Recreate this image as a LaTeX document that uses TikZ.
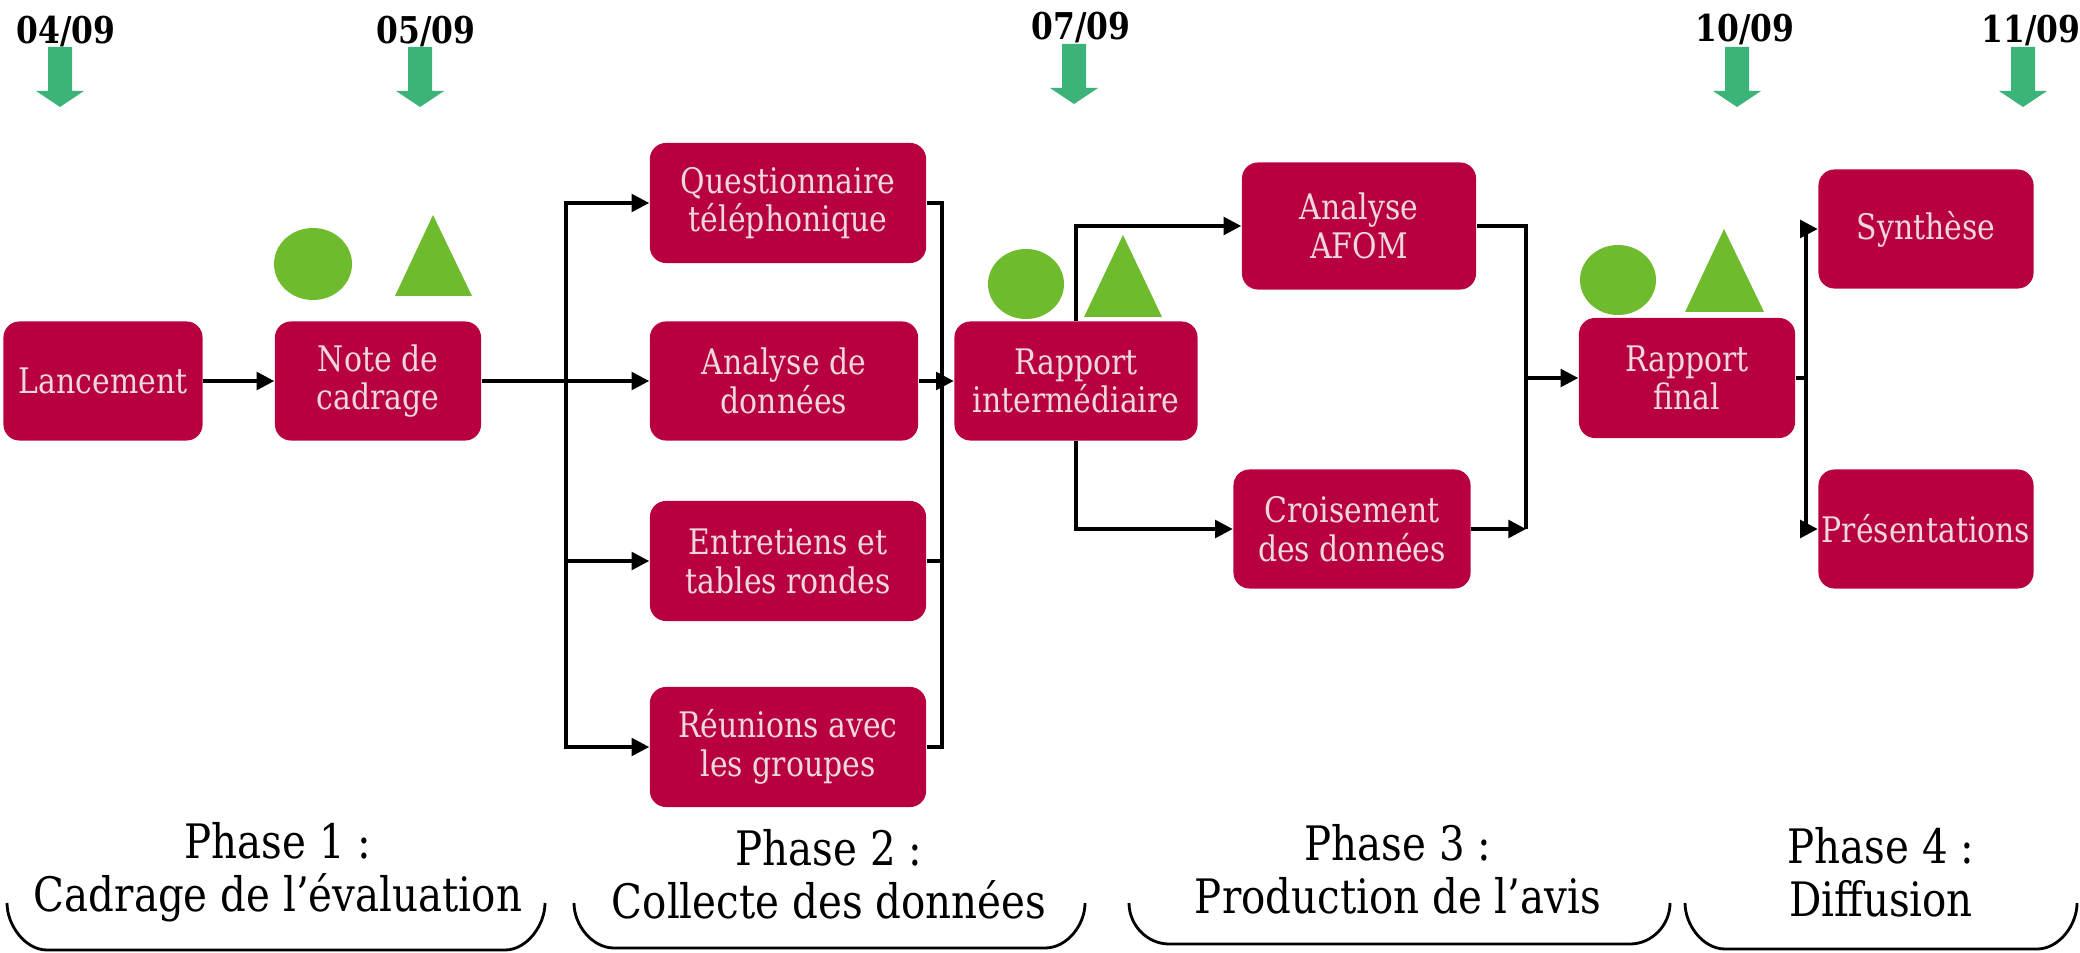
\documentclass[tikz,border=0pt]{standalone}
\usepackage{fontspec}
\setmainfont{DejaVu Serif}[FakeStretch=0.85]
\usetikzlibrary{arrows.meta}
\definecolor{boxred}{RGB}{184,0,64}
\definecolor{boxtxt}{RGB}{238,215,222}
\definecolor{arrgreen}{RGB}{60,179,120}
\definecolor{shpgreen}{RGB}{110,187,46}
\tikzset{
  box/.style={fill=boxred, rounded corners=0.16cm, text=boxtxt, align=center,
    font=\fontsize{10}{11}\selectfont, inner sep=1pt},
  phase/.style={align=center, font=\fontsize{13.5}{15}\selectfont},
  datelbl/.style={font=\bfseries\fontsize{10.5}{12}\selectfont, inner sep=0pt},
  conn/.style={line width=1pt, black},
  arr/.style={conn, -{Triangle[length=5pt,width=5pt]}},
  brace/.style={line width=0.8pt, black},
}
\begin{document}
\begin{tikzpicture}[x=0.01cm,y=-0.01cm]
\useasboundingbox (0,0) rectangle (2080,952);
% dates and green arrows
\node[datelbl] (d1) at (66,32) {04/09};
\node[datelbl] (d2) at (426,32) {05/09};
\node[datelbl] (d3) at (1081,28) {07/09};
\node[datelbl] (d4) at (1745,30) {10/09};
\node[datelbl] (d5) at (2031,31) {11/09};
\foreach \c/\t in {60/47,420/47,1074/44,1737/47,2023/47}{
  \fill[arrgreen] (\c-12,\t) -- (\c+12,\t) -- (\c+12,\t+44) -- (\c+24,\t+44)
    -- (\c,\t+60) -- (\c-24,\t+44) -- (\c-12,\t+44) -- cycle;
}
% green markers
\fill[shpgreen] (313,264) ellipse [x radius=39, y radius=36];
\fill[shpgreen] (395,296) -- (433,215) -- (472,296) -- cycle;
\fill[shpgreen] (1026,284) ellipse [x radius=38, y radius=35];
\fill[shpgreen] (1084,317) -- (1123,235) -- (1162,317) -- cycle;
\fill[shpgreen] (1618,280) ellipse [x radius=38, y radius=35];
\fill[shpgreen] (1685,312) -- (1724,229) -- (1764,312) -- cycle;
% boxes
\node[box, minimum width=1.99cm, minimum height=1.19cm] (lan) at (103,381) {Lancement};
\node[box, minimum width=2.06cm, minimum height=1.19cm] (note) at (378,381) {Note de\\cadrage};
\node[box, minimum width=2.76cm, minimum height=1.20cm] (q) at (788,203) {Questionnaire\\téléphonique};
\node[box, minimum width=2.68cm, minimum height=1.19cm] (ad) at (784,381) {Analyse de\\données};
\node[box, minimum width=2.76cm, minimum height=1.20cm] (et) at (788,561) {Entretiens et\\tables rondes};
\node[box, minimum width=2.76cm, minimum height=1.20cm] (rg) at (788,747) {Réunions avec\\les groupes};
\node[box, minimum width=2.43cm, minimum height=1.19cm] (ri) at (1076,381) {Rapport\\intermédiaire};
\node[box, minimum width=2.34cm, minimum height=1.27cm] (afom) at (1359,226) {Analyse\\AFOM};
\node[box, minimum width=2.37cm, minimum height=1.19cm] (cd) at (1352,529) {Croisement\\des données};
\node[box, minimum width=2.16cm, minimum height=1.20cm] (rf) at (1687,378) {Rapport\\final};
\node[box, minimum width=2.15cm, minimum height=1.19cm] (sy) at (1926,229) {Synthèse};
\node[box, minimum width=2.15cm, minimum height=1.19cm, inner sep=0pt] (pr) at (1926,529) {Présentations};
% connectors
\draw[arr] (lan.east) -- (note.west);
\coordinate (j1) at (566,381);
\draw[arr] (note.east) -- (ad.west);
\draw[arr] (j1) |- (q.west);
\draw[arr] (j1) |- (et.west);
\draw[arr] (j1) |- (rg.west);
\coordinate (j2) at (942,381);
\draw[conn] (q.east) -| (j2);
\draw[conn] (et.east) -| (j2);
\draw[conn] (rg.east) -| (j2);
\draw[arr] (ad.east) -- (ri.west);
\draw[arr] (ri.north) |- (afom.west);
\draw[arr] (ri.south) |- (cd.west);
\coordinate (j3) at (1526,378);
\coordinate (j4) at (1526,529);
\draw[conn] (afom.east) -| (j3);
\draw[arr] (cd.east) -- (j4);
\draw[conn] (j4) -- (j3);
\draw[arr] (j3) -- (rf.west);
\coordinate (j5) at (1806,378);
\draw[conn] (rf.east) -- (j5);
\draw[arr] (j5) |- (sy.west);
\draw[arr] (j5) |- (pr.west);
% phases
\node[phase] (p1) at (278,872) {Phase 1 :\\Cadrage de l'évaluation};
\node[phase] (p2) at (829,874) {Phase 2 :\\Collecte des données};
\node[phase] (p3) at (1398,869) {Phase 3 :\\Production de l'avis};
\node[phase] (p4) at (1881,872) {Phase 4 :\\Diffusion};
\foreach \a/\b/\y in {7/545/950,574/1085/948,1129/1670/944,1685/2077/949}{
  \draw[brace] (\a,903) .. controls (\a,925) and (\a+18,\y) .. (\a+40,\y)
    -- (\b-40,\y) .. controls (\b-18,\y) and (\b,925) .. (\b,903);
}
\end{tikzpicture}
\end{document}
